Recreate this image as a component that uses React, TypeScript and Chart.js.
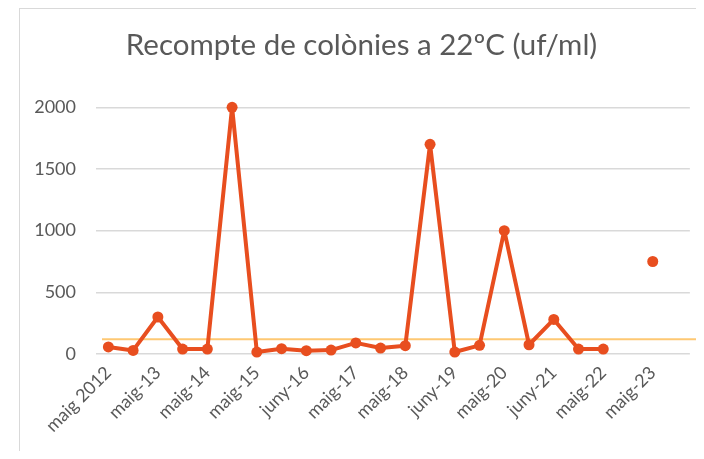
import React, { useEffect, useRef } from "react";
import { Chart, registerables } from "chart.js";

Chart.register(...registerables);

const TITLE = "Recompte de colònies a 22ºC (uf/ml)";

const categories = [
  "maig 2012", "", "maig-13", "", "maig-14", "", "maig-15", "", "juny-16", "",
  "maig-17", "", "maig-18", "", "juny-19", "", "maig-20", "", "juny-21", "",
  "maig-22", "", "maig-23", "",
];

const colonyCounts: (number | null)[] = [
  57, 29, 300, 40, 40, 2000, 16, 43, 27, 32,
  90, 48, 67, 1700, 16, 70, 1000, 75, 280, 40,
  40, null, 750, null,
];

const THRESHOLD = 120;

const yTicks = { min: 0, max: 2000, step: 500 };

const FONT = "Lato, 'Open Sans', sans-serif";
const TEXT = "#595959";
const SERIES = "#E84E1F";
const THRESH_COLOR = "#FEC873";
const GRID = "#D9D9D9";

const thresholdPlugin = {
  id: "thresholdLine",
  beforeDatasetsDraw(chart: any) {
    const { ctx, chartArea, scales, width } = chart;
    const y = scales.y.getPixelForValue(THRESHOLD);
    ctx.save();
    ctx.strokeStyle = THRESH_COLOR;
    ctx.lineWidth = 2;
    ctx.beginPath();
    ctx.moveTo(chartArea.left + 6, y);
    ctx.lineTo(width, y);
    ctx.stroke();
    ctx.restore();
  },
};

export default function App() {
  const ref = useRef<HTMLCanvasElement>(null);

  useEffect(() => {
    if (!ref.current) return;
    const chart = new Chart(ref.current, {
      type: "line",
      data: {
        labels: categories,
        datasets: [
          {
            data: colonyCounts,
            borderColor: SERIES,
            backgroundColor: SERIES,
            borderWidth: 4,
            borderJoinStyle: "round",
            borderCapStyle: "round",
            pointRadius: 5.5,
            pointBorderWidth: 0,
            pointBackgroundColor: SERIES,
            tension: 0,
            spanGaps: false,
            clip: false as any,
          },
        ],
      },
      options: {
        responsive: false,
        animation: false,
        layout: { padding: { left: 13, right: 11, top: 0, bottom: 0 } },
        plugins: {
          legend: { display: false },
          tooltip: { enabled: false },
          title: {
            display: true,
            text: TITLE,
            color: TEXT,
            font: { family: FONT, size: 29.5, weight: "normal" as any, lineHeight: 1.2 },
            padding: { top: 18.3, bottom: 44.6 },
          },
        },
        scales: {
          x: {
            offset: true,
            grid: { display: false, drawTicks: false, offset: true },
            border: { display: false },
            ticks: {
              autoSkip: false,
              maxRotation: 45,
              minRotation: 45,
              padding: 8,
              color: TEXT,
              font: { family: FONT, size: 18 },
            },
            afterFit(scale: any) {
              scale.height = 105;
            },
          },
          y: {
            min: yTicks.min,
            max: yTicks.max,
            grid: { color: GRID, lineWidth: 1.5, drawTicks: false },
            border: { display: false },
            ticks: {
              stepSize: yTicks.step,
              padding: 20,
              color: TEXT,
              font: { family: FONT, size: 18 },
              callback: (v: any) => String(v),
            },
            afterFit(scale: any) {
              scale.width = 63;
            },
          },
        },
      },
      plugins: [thresholdPlugin],
    });
    return () => chart.destroy();
  }, []);

  return (
    <div
      style={{
        marginLeft: 11,
        width: 683,
        height: 443,
        boxSizing: "border-box",
        borderTop: `1px solid ${GRID}`,
        borderLeft: `1px solid ${GRID}`,
        borderRight: `1px solid ${GRID}`,
        overflow: "hidden",
        background: "#fff",
      }}
    >
      <canvas ref={ref} width={681} height={450} style={{ display: "block" }} />
    </div>
  );
}
